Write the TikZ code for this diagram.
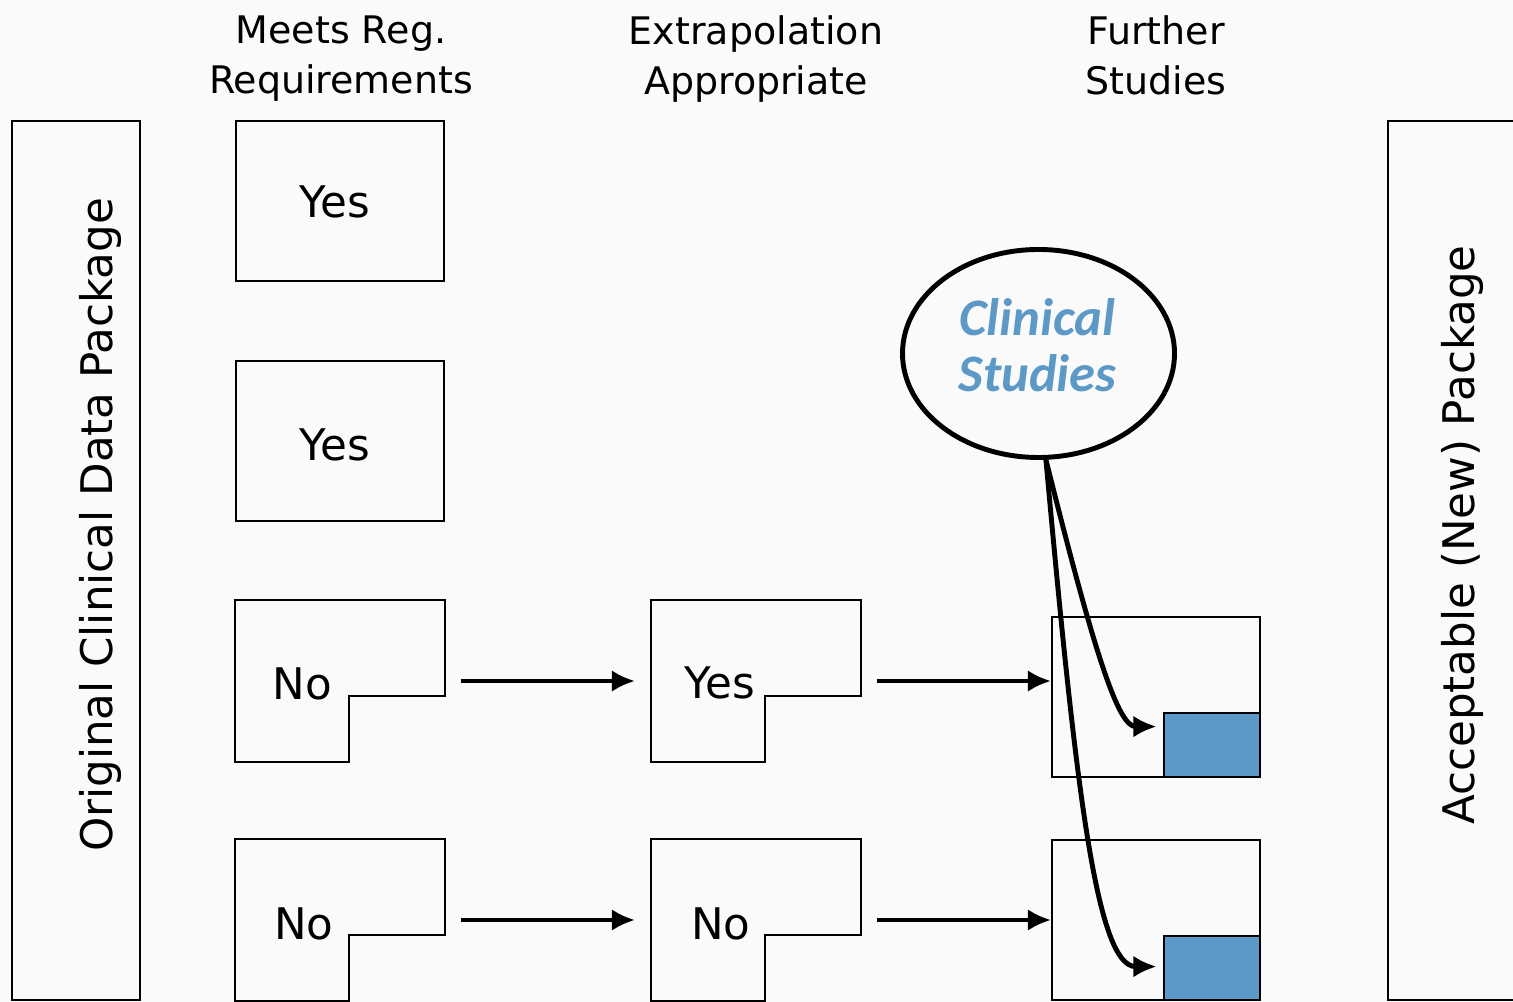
\documentclass[tikz,border=0pt]{standalone}
\usepackage{fontspec}
\setmainfont{DejaVu Sans}
\newfontfamily\clinfont{Carlito}
\usetikzlibrary{arrows.meta,shapes.geometric}
\definecolor{clinblue}{RGB}{93,153,198}
\definecolor{paper}{RGB}{250,250,250}

\begin{document}
\begin{tikzpicture}[
	box/.style={rectangle, draw, line width=0.6pt, minimum width=2.08cm,
		minimum height=1.6cm, inner sep=0pt},
	lbox/.style={box, draw=none},
	lshape/.style={line width=0.6pt},
	side/.style={rectangle, draw, line width=0.6pt, minimum height=8.79cm,
		inner sep=0pt},
	head/.style={align=center, anchor=north, inner sep=0pt,
		font=\fontsize{10.8}{14.2}\selectfont},
	sidetext/.style={rotate=90, inner sep=0pt, font=\fontsize{12.4}{15}\selectfont},
	lbl/.style={anchor=base, inner sep=0pt, font=\fontsize{12.4}{14}\selectfont},
	newbox/.style={rectangle, draw, line width=0.7pt, fill=clinblue,
		minimum width=0.96cm, minimum height=0.64cm, inner sep=0pt, anchor=south east},
	flow/.style={-{Latex[length=6.6pt,width=6.2pt]}, line width=1.2pt},
	curve/.style={-{Latex[length=6.6pt,width=6.2pt]}, line width=1.4pt}]

	\fill[paper] (0,0) rectangle (15.13,10.02);
	\useasboundingbox (0,0) rectangle (15.13,10.02);

	\node[head] (hreg) at (3.41, 9.87) {Meets Reg.\\Requirements};
	\node[head] (hext) at (7.56, 9.87) {Extrapolation\\Appropriate};
	\node[head] (hfur) at (11.56, 9.87) {Further\\Studies};

	\node[side, minimum width=1.28cm] (orig) at (0.76, 4.415) {};
	\node[sidetext] (origtxt) at (1.00, 4.77) {Original Clinical Data Package};

	\node[side, minimum width=1.4cm] (accept) at (14.58, 4.415) {};
	\node[sidetext] (accepttxt) at (14.62, 4.67) {Acceptable (New) Package};

	\node[box] (reg1) at (3.40, 8.01) {};
	\node[lbl] (yes1) at (3.35, 7.84) {Yes};
	\node[box] (reg2) at (3.40, 5.61) {};
	\node[lbl] (yes2) at (3.35, 5.41) {Yes};

	\node[lbox] (reg3) at (3.40, 3.21) {};
	\draw[lshape] (reg3.north west) -- (reg3.north east) -- ++(0,-0.96)
		-- ++(-0.96,0) |- (reg3.south west) -- cycle;
	\node[lbl] (no3) at (3.025, 3.02) {No};

	\node[lbox] (ext3) at (7.56, 3.21) {};
	\draw[lshape] (ext3.north west) -- (ext3.north east) -- ++(0,-0.96)
		-- ++(-0.96,0) |- (ext3.south west) -- cycle;
	\node[lbl] (yes3) at (7.20, 3.03) {Yes};

	\node[box] (fur3) at (11.56, 3.05) {};
	\node[newbox] (new3) at (fur3.south east) {};

	\node[lbox] (reg4) at (3.40, 0.82) {};
	\draw[lshape] (reg4.north west) -- (reg4.north east) -- ++(0,-0.96)
		-- ++(-0.96,0) |- (reg4.south west) -- cycle;
	\node[lbl] (no4) at (3.04, 0.62) {No};

	\node[lbox] (ext4) at (7.56, 0.82) {};
	\draw[lshape] (ext4.north west) -- (ext4.north east) -- ++(0,-0.96)
		-- ++(-0.96,0) |- (ext4.south west) -- cycle;
	\node[lbl] (no4b) at (7.21, 0.62) {No};

	\node[box] (fur4) at (11.56, 0.82) {};
	\node[newbox] (new4) at (fur4.south east) {};

	\draw[flow] ([xshift=0.16cm]reg3.east) -- ([xshift=-0.16cm]ext3.west);
	\draw[flow] ([xshift=0.16cm]ext3.east) -- (ext3.east -| fur3.west);
	\draw[flow] ([xshift=0.16cm]reg4.east) -- ([xshift=-0.16cm]ext4.west);
	\draw[flow] ([xshift=0.16cm]ext4.east) -- (ext4.east -| fur4.west);

	\node[ellipse, draw, line width=1.4pt, minimum width=2.72cm, minimum height=2.08cm,
		inner sep=0pt] (clin) at (10.385, 6.485) {};
	\node[align=center, inner sep=0pt, text=clinblue,
		font=\clinfont\bfseries\itshape\fontsize{15}{16}\selectfont]
		(clintxt) at (10.375, 6.57) {Clinical\\Studies};

	\draw[curve] (clin.-86) .. controls +(0.5,-2.0) and +(-0.38,0)
		.. ([xshift=-0.06cm, yshift=-0.15cm]new3.north west);
	\draw[curve] (clin.-86) .. controls +(0.3,-3.3) and +(-0.6,0)
		.. ([xshift=-0.06cm, yshift=-0.32cm]new4.north west);
\end{tikzpicture}
\end{document}
